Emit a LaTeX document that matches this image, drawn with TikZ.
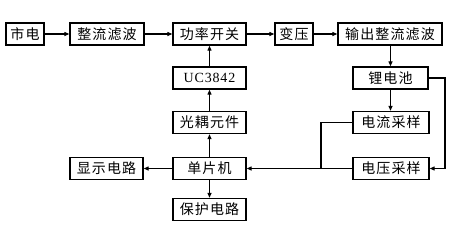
\documentclass[tikz,border=0pt]{standalone}
\usepackage{fontspec}
\setmainfont{Liberation Serif}
\newfontfamily\cjk[LetterSpace=8]{Noto Sans CJK SC}
\newfontfamily\ucfont[LetterSpace=6]{Liberation Serif}
\usetikzlibrary{arrows.meta}
\begin{document}
\begin{tikzpicture}[x=1pt,y=-1pt,
  blk/.style={draw, line width=1.3pt, inner sep=0pt, minimum height=22pt, font=\cjk\fontsize{14}{14}\selectfont},
  conn/.style={line width=1.1pt},
  arr/.style={conn, -{Triangle[length=5pt,width=4pt]}}]
\useasboundingbox (0,0) rectangle (474,231);
\node[blk, minimum width=38pt] (sd) at (25,34) {市电};
\node[blk, minimum width=74pt] (zl) at (107,34) {整流滤波};
\node[blk, minimum width=73pt] (gl) at (209.5,34) {功率开关};
\node[blk, minimum width=38pt] (by) at (294,34) {变压};
\node[blk, minimum width=104pt] (sc) at (390,34) {输出整流滤波};
\node[blk, minimum width=73pt, font=\ucfont\fontsize{14}{14}\selectfont] (uc) at (209.5,78) {UC3842};
\node[blk, minimum width=75pt] (li) at (390.5,78) {锂电池};
\node[blk, minimum width=73pt] (go) at (209.5,122.5) {光耦元件};
\node[blk, minimum width=76pt] (dl) at (391,122.5) {电流采样};
\node[blk, minimum width=73pt] (dp) at (209.5,168.5) {单片机};
\node[blk, minimum width=73pt] (xs) at (106.5,168.5) {显示电路};
\node[blk, minimum width=76pt] (dy) at (391,168.5) {电压采样};
\node[blk, minimum width=73pt] (bh) at (209.5,209.5) {保护电路};
\coordinate (rc) at (445,0);
\coordinate (jn) at (321,0);
\draw[arr] (sd) -- (zl);
\draw[arr] (zl) -- (gl);
\draw[arr] (gl) -- (by);
\draw[arr] (by) -- (sc);
\draw[arr] (sc.south -| li.north) -- (li.north);
\draw[arr] (li) -- (li.south |- dl.north);
\draw[arr] (uc) -- (gl);
\draw[arr] (go) -- (uc);
\draw[arr] (dp) -- (go);
\draw[arr] (dp) -- (bh);
\draw[arr] (dp) -- (xs);
\draw[arr] (dy) -- (dp);
\draw[arr] (li.east) -- (li.east -| rc) -- (dy.east -| rc) -- (dy.east);
\draw[conn] (dl.west) -- (dl.west -| jn) -- (dy.west -| jn);
\end{tikzpicture}
\end{document}
